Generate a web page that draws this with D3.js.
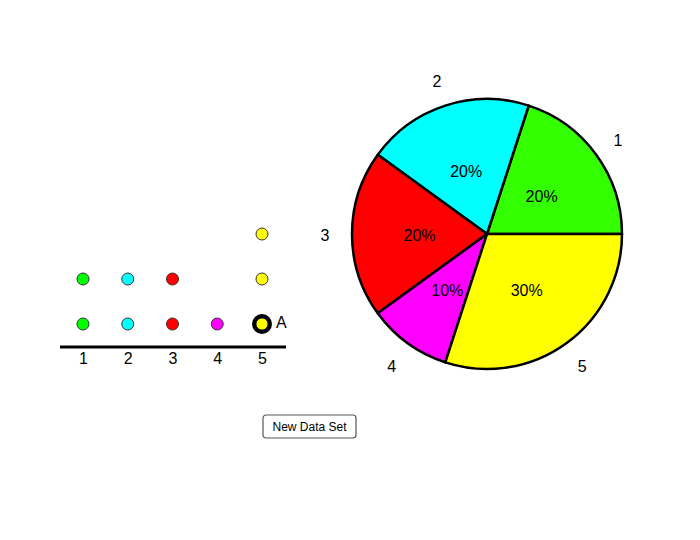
<!DOCTYPE html>
<html>
<head>
<meta charset="utf-8">
<script src="https://d3js.org/d3.v7.min.js"></script>
<style>
  body { margin: 0; background: #fff; }
  svg { font-family: "Liberation Sans", Arial, sans-serif; }
</style>
</head>
<body>
<div id="chart"></div>
<script>
// data
var values = [1, 2, 3, 4, 5];
var counts = [2, 2, 2, 1, 3];
var dotColors = ["#00ff00", "#00ffff", "#ff0000", "#ff00ff", "#ffff00"];
var pieColors = ["#33ff00", "#00ffff", "#ff0000", "#ff00ff", "#ffff00"];
var markedValue = 5, markedLevel = 0, markedName = "A";
var buttonText = "New Data Set";

var svg = d3.select("#chart")
  .append("svg")
    .attr("width", 700)
    .attr("height", 540);

// ---- dot plot ----
var x = d3.scaleLinear().domain([1, 5]).range([83, 262]);
var y = d3.scaleLinear().domain([0, 2]).range([324, 234]);
var total = d3.sum(counts);

var dots = [];
values.forEach(function(v, i) {
  for (var k = 0; k < counts[i]; k++) {
    dots.push({value: v, level: k, color: dotColors[i]});
  }
});

svg.append("line")
  .attr("x1", 60).attr("x2", 286)
  .attr("y1", 347).attr("y2", 347)
  .attr("stroke", "black")
  .attr("stroke-width", 3);

var axis = svg.append("g")
  .attr("transform", "translate(0,350)")
  .call(d3.axisBottom(x).tickValues(values).tickFormat(d3.format("d")).tickSize(0).tickPadding(3));
axis.select(".domain").remove();
axis.selectAll("text")
  .attr("font-size", 16)
  .attr("font-family", "Liberation Sans, Arial, sans-serif")
  .attr("fill", "black");

svg.selectAll(".dot")
  .data(dots)
  .enter().append("circle")
    .attr("class", "dot")
    .attr("cx", function(d) { return x(d.value); })
    .attr("cy", function(d) { return y(d.level); })
    .attr("r", 6)
    .attr("fill", function(d) { return d.color; })
    .attr("stroke", "#333")
    .attr("stroke-width", 1);

svg.append("circle")
  .attr("cx", x(markedValue))
  .attr("cy", y(markedLevel))
  .attr("r", 8)
  .attr("fill", "none")
  .attr("stroke", "black")
  .attr("stroke-width", 4);

svg.append("text")
  .attr("x", x(markedValue) + 14)
  .attr("y", y(markedLevel) + 4)
  .attr("font-size", 16)
  .text(markedName);

// ---- pie ----
var cx = 487, cy = 234, radius = 135;
var pie = d3.pie().sort(null)
  .startAngle(Math.PI / 2)
  .endAngle(Math.PI / 2 - 2 * Math.PI);
var arcs = pie(counts);
var arc = d3.arc().innerRadius(0).outerRadius(radius);
var midArc = d3.arc().innerRadius(radius / 2).outerRadius(radius / 2);
var outArc = d3.arc().innerRadius(radius * 1.2).outerRadius(radius * 1.2);

var g = svg.append("g").attr("transform", "translate(" + cx + "," + cy + ")");

g.selectAll(".slice")
  .data(arcs)
  .enter().append("path")
    .attr("class", "slice")
    .attr("d", arc)
    .attr("fill", function(d, i) { return pieColors[i]; })
    .attr("stroke", "black")
    .attr("stroke-width", 2.5)
    .attr("stroke-linejoin", "round");

g.selectAll(".pct")
  .data(arcs)
  .enter().append("text")
    .attr("class", "pct")
    .attr("transform", function(d) { return "translate(" + midArc.centroid(d) + ")"; })
    .attr("text-anchor", "middle")
    .attr("dy", "0.45em")
    .attr("font-size", 16)
    .text(function(d) { return Math.round(d.value / total * 100) + "%"; });

g.selectAll(".lbl")
  .data(arcs)
  .enter().append("text")
    .attr("class", "lbl")
    .attr("transform", function(d) { return "translate(" + outArc.centroid(d) + ")"; })
    .attr("text-anchor", "middle")
    .attr("dy", "0.45em")
    .attr("font-size", 16)
    .text(function(d, i) { return values[i]; });

// ---- button ----
var btn = svg.append("g").attr("transform", "translate(263,415)");
btn.append("rect")
  .attr("width", 93).attr("height", 23)
  .attr("rx", 3)
  .attr("fill", "white")
  .attr("stroke", "#555")
  .attr("stroke-width", 1.2);
btn.append("text")
  .attr("x", 46.5).attr("y", 12)
  .attr("dy", "0.35em")
  .attr("text-anchor", "middle")
  .attr("font-size", 12)
  .text(buttonText);
</script>
</body>
</html>
